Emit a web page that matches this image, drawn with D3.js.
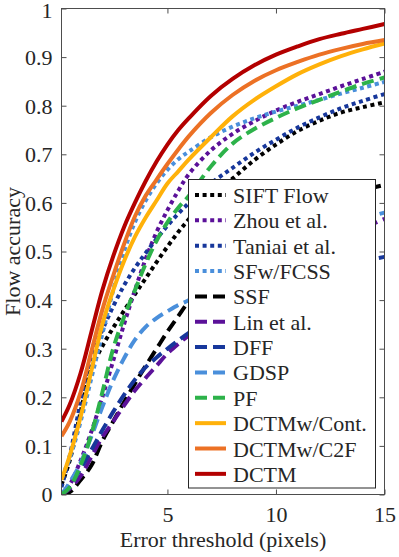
<!DOCTYPE html>
<html>
<head>
<meta charset="utf-8">
<script src="https://cdn.jsdelivr.net/npm/d3@7"></script>
<style>
	body { margin: 0; background: #fff; }
</style>
</head>
<body>
<div id="chart"></div>
<script>

///////////////////////////////////////////////////////////////////////////
//////////////////////////////// The data /////////////////////////////////
///////////////////////////////////////////////////////////////////////////

var thresholds = [0.12, 0.5, 1, 1.5, 2, 2.5, 3, 3.5, 4, 4.5, 5, 5.5, 6, 7, 8, 9, 10, 11, 12, 13, 14, 15];

var methodNames = ["SIFT Flow", "Zhou et al.", "Taniai et al.", "SFw/FCSS", "SSF", "Lin et al.",
	"DFF", "GDSP", "PF", "DCTMw/Cont.", "DCTMw/C2F", "DCTM"];

var siftFlow = [0.02, 0.07, 0.17, 0.26, 0.305, 0.343, 0.378, 0.412, 0.445, 0.478, 0.51, 0.54, 0.567, 0.612, 0.65, 0.688, 0.72, 0.748, 0.769, 0.786, 0.797, 0.807];
var zhou     = [0.0, 0.02, 0.07, 0.13, 0.20, 0.275, 0.35, 0.42, 0.485, 0.54, 0.585, 0.625, 0.66, 0.708, 0.742, 0.768, 0.79, 0.808, 0.824, 0.84, 0.855, 0.87];
var taniai   = [0.015, 0.08, 0.19, 0.285, 0.338, 0.387, 0.43, 0.466, 0.497, 0.526, 0.553, 0.578, 0.60, 0.64, 0.672, 0.703, 0.73, 0.755, 0.776, 0.795, 0.81, 0.824];
var sfwFcss  = [0.035, 0.075, 0.15, 0.24, 0.33, 0.42, 0.50, 0.56, 0.605, 0.64, 0.668, 0.69, 0.706, 0.735, 0.757, 0.774, 0.788, 0.80, 0.812, 0.825, 0.837, 0.849];
var ssf      = [0.0, 0.005, 0.03, 0.06, 0.11, 0.15, 0.19, 0.228, 0.265, 0.30, 0.335, 0.367, 0.398, 0.445, 0.485, 0.52, 0.55, 0.575, 0.595, 0.612, 0.626, 0.637];
var lin      = [0.0, 0.012, 0.038, 0.078, 0.118, 0.15, 0.183, 0.214, 0.24, 0.265, 0.29, 0.31, 0.328, 0.362, 0.393, 0.423, 0.452, 0.48, 0.505, 0.528, 0.548, 0.567];
var dff      = [0.0, 0.018, 0.053, 0.092, 0.132, 0.17, 0.205, 0.236, 0.262, 0.282, 0.30, 0.317, 0.333, 0.362, 0.388, 0.41, 0.43, 0.446, 0.46, 0.47, 0.48, 0.489];
var gdsp     = [0.0, 0.025, 0.065, 0.12, 0.18, 0.235, 0.28, 0.318, 0.345, 0.363, 0.377, 0.39, 0.40, 0.43, 0.458, 0.483, 0.505, 0.525, 0.541, 0.555, 0.568, 0.58];
var pf       = [0.0, 0.015, 0.06, 0.125, 0.21, 0.30, 0.365, 0.42, 0.475, 0.522, 0.56, 0.59, 0.615, 0.675, 0.722, 0.752, 0.775, 0.795, 0.812, 0.829, 0.845, 0.858];
var dctmCont = [0.03, 0.08, 0.16, 0.255, 0.35, 0.42, 0.48, 0.53, 0.57, 0.605, 0.64, 0.665, 0.69, 0.735, 0.778, 0.812, 0.84, 0.865, 0.885, 0.902, 0.916, 0.928];
var dctmC2f  = [0.12, 0.15, 0.21, 0.295, 0.38, 0.45, 0.515, 0.572, 0.615, 0.648, 0.68, 0.71, 0.738, 0.785, 0.822, 0.851, 0.873, 0.89, 0.905, 0.917, 0.927, 0.935];
var dctm     = [0.15, 0.185, 0.25, 0.335, 0.42, 0.49, 0.55, 0.60, 0.645, 0.685, 0.72, 0.75, 0.775, 0.82, 0.855, 0.883, 0.905, 0.922, 0.937, 0.948, 0.958, 0.968];

var yTicks = [0, 0.1, 0.2, 0.3, 0.4, 0.5, 0.6, 0.7, 0.8, 0.9, 1];
var xTicks = [5, 10, 15];

var seriesValues = [siftFlow, zhou, taniai, sfwFcss, ssf, lin, dff, gdsp, pf, dctmCont, dctmC2f, dctm];

var colors = ["#000000", "#5b1199", "#17379b", "#4a8fdb", "#000000", "#5b1199",
	"#17379b", "#4a8fdb", "#2db24a", "#ffb10a", "#ec7125", "#b30000"];
var styles = ["dot", "dot", "dot", "dot", "dash", "dash", "dash", "dash", "dash", "solid", "solid", "solid"];

///////////////////////////////////////////////////////////////////////////
//////////////////////////// Set up the SVG ///////////////////////////////
///////////////////////////////////////////////////////////////////////////

var width = 399, height = 557;
var plot = { left: 61.5, right: 384.5, top: 8.5, bottom: 494.5 };
var serifFont = "'Liberation Serif', 'Times New Roman', Tinos, 'Nimbus Roman', 'FreeSerif', 'Noto Serif', 'DejaVu Serif', Times, serif";

var svg = d3.select("#chart")
	.append("svg")
	.attr("width", width)
	.attr("height", height);

var xScale = d3.scaleLinear()
	.domain([0.12, 15])
	.range([plot.left, plot.right]);

var yScale = d3.scaleLinear()
	.domain([0, 1])
	.range([plot.bottom, plot.top]);

var dashes = { dot: "4,3.6", dash: "12,6", solid: null };

svg.append("clipPath").attr("id", "plot-clip")
	.append("rect")
	.attr("x", plot.left).attr("y", plot.top)
	.attr("width", plot.right - plot.left).attr("height", plot.bottom - plot.top);

///////////////////////////////////////////////////////////////////////////
//////////////////////////// Draw the curves //////////////////////////////
///////////////////////////////////////////////////////////////////////////

var series = methodNames.map(function(name, i) {
	return {
		name: name,
		color: colors[i],
		style: styles[i],
		points: thresholds.map(function(t, j) { return { x: t, y: seriesValues[i][j] }; })
	};
});

var line = d3.line()
	.x(function(d) { return xScale(d.x); })
	.y(function(d) { return yScale(d.y); })
	.curve(d3.curveCatmullRom.alpha(0.5));

svg.append("g")
	.attr("class", "curves")
	.attr("clip-path", "url(#plot-clip)")
	.selectAll("path")
	.data(series)
	.enter().append("path")
	.attr("d", function(d) { return line(d.points); })
	.style("fill", "none")
	.style("stroke", function(d) { return d.color; })
	.style("stroke-width", 4)
	.style("stroke-dasharray", function(d) { return dashes[d.style]; });

///////////////////////////////////////////////////////////////////////////
//////////////////////////////// Axes /////////////////////////////////////
///////////////////////////////////////////////////////////////////////////

var axisColor = "#4d4d4d";

//left + bottom with inner ticks, MATLAB style
svg.append("g")
	.attr("class", "y-axis")
	.attr("transform", "translate(" + plot.left + ",0)")
	.call(d3.axisLeft(yScale).tickValues(yTicks).tickSizeInner(-5).tickSizeOuter(0).tickPadding(9)
		.tickFormat(function(d) { return d3.format("~g")(d); }));

svg.append("g")
	.attr("class", "x-axis")
	.attr("transform", "translate(0," + plot.bottom + ")")
	.call(d3.axisBottom(xScale).tickValues(xTicks).tickSizeInner(-5).tickSizeOuter(0).tickPadding(12));

//top + right, ticks only
svg.append("g")
	.attr("transform", "translate(" + plot.right + ",0)")
	.call(d3.axisRight(yScale).tickValues(yTicks).tickSizeInner(-5).tickSizeOuter(0).tickFormat(""));
svg.append("g")
	.attr("transform", "translate(0," + plot.top + ")")
	.call(d3.axisTop(xScale).tickValues(xTicks).tickSizeInner(-5).tickSizeOuter(0).tickFormat(""));

svg.selectAll(".domain").remove();
svg.selectAll(".tick line").style("stroke", axisColor);
svg.selectAll(".tick text")
	.attr("font-size", 22)
	.style("fill", "#262626");
svg.selectAll(".y-axis .tick text")
	.attr("dy", function(d) { return d === 1 ? "0.42em" : "0.34em"; }); //top label stays in the picture

svg.append("rect")
	.attr("x", plot.left).attr("y", plot.top)
	.attr("width", plot.right - plot.left).attr("height", plot.bottom - plot.top)
	.style("fill", "none")
	.style("stroke", axisColor)
	.style("stroke-width", 1);

svg.append("text")
	.attr("x", (plot.left + plot.right) / 2)
	.attr("y", 547)
	.attr("text-anchor", "middle")
	.attr("font-size", 22)
	.text("Error threshold (pixels)");

svg.append("text")
	.attr("transform", "translate(20," + ((plot.top + plot.bottom) / 2) + ") rotate(-90)")
	.attr("text-anchor", "middle")
	.attr("font-size", 22)
	.text("Flow accuracy");

///////////////////////////////////////////////////////////////////////////
/////////////////////////////// Legend ////////////////////////////////////
///////////////////////////////////////////////////////////////////////////

var legend = svg.append("g").attr("class", "legend");

legend.append("rect")
	.attr("x", 188.5).attr("y", 179.5)
	.attr("width", 187).attr("height", 308.5)
	.style("fill", "#fff")
	.style("stroke", "#262626")
	.style("stroke-width", 1);

var rowY = function(i) { return 195 + i * 25.35; };

var entry = legend.selectAll(".legend-entry")
	.data(series)
	.enter().append("g")
	.attr("class", "legend-entry")
	.attr("transform", function(d, i) { return "translate(0," + rowY(i) + ")"; });

entry.append("line")
	.attr("x1", 195).attr("x2", 226)
	.style("stroke", function(d) { return d.color; })
	.style("stroke-width", 4)
	.style("stroke-dasharray", function(d) { return dashes[d.style]; });

entry.append("text")
	.attr("x", 233)
	.attr("y", 8)
	.attr("font-size", 22)
	.text(function(d) { return d.name; });

//one serif face for every label
svg.selectAll("text")
	.style("font-family", serifFont)
	.style("fill", "#262626");

</script>
</body>
</html>
